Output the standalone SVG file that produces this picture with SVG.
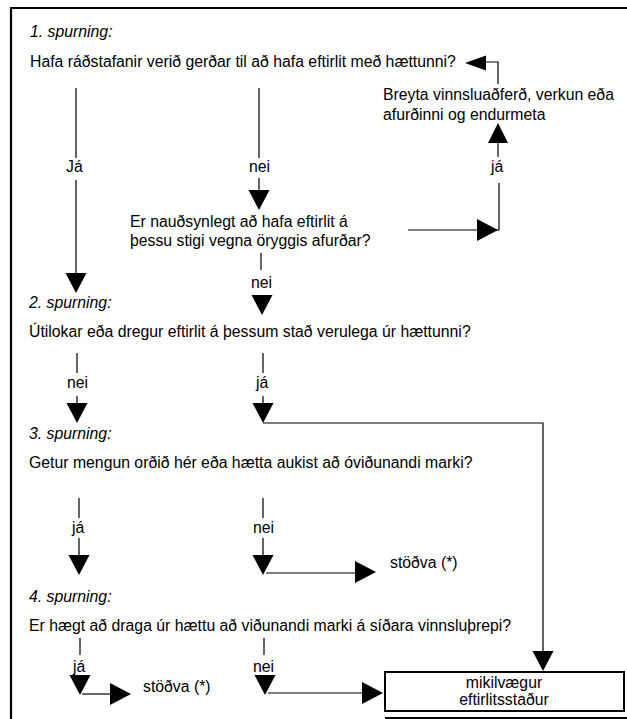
<svg xmlns="http://www.w3.org/2000/svg" width="627" height="719" viewBox="0 0 627 719">
<style>
text{font-family:"Liberation Sans",Arial,sans-serif;font-size:15.8px;fill:#000}
.i{font-style:italic}
.l{stroke:#000;stroke-width:1.2;fill:none}
.a{fill:#000}
</style>
<defs>
<polygon id="ad" points="-10.5,0 10.5,0 0,20"/>
<polygon id="ar" points="0,-11 0,11 21,0"/>
<polygon id="au" points="-10,0 10,0 0,-20"/>
<polygon id="al" points="0,-7.5 0,7.5 -21,0"/>
</defs>
<path d="M11,719 V8 H627" fill="none" stroke="#000" stroke-width="2.2"/>
<path d="M385,718 H627" fill="none" stroke="#000" stroke-width="2"/>
<g id="q1">
<text class="i" x="30" y="37">1. spurning:</text>
<text x="30" y="67">Hafa ráðstafanir verið gerðar til að hafa eftirlit með hættunni?</text>
</g>
<g id="change">
<text x="383" y="100">Breyta vinnsluaðferð, verkun eða</text>
<text x="383" y="120">afurðinni og endurmeta</text>
</g>
<g id="need">
<text x="130" y="227">Er nauðsynlegt að hafa eftirlit á</text>
<text x="130" y="246">þessu stigi vegna öryggis afurðar?</text>
</g>
<g id="q2">
<text class="i" x="29" y="308">2. spurning:</text>
<text x="29" y="337">Útilokar eða dregur eftirlit á þessum stað verulega úr hættunni?</text>
</g>
<g id="q3">
<text class="i" x="29" y="439">3. spurning:</text>
<text x="29" y="468">Getur mengun orðið hér eða hætta aukist að óviðunandi marki?</text>
</g>
<g id="stop1"><text x="390" y="568">stöðva (*)</text></g>
<g id="q4">
<text class="i" x="29" y="602">4. spurning:</text>
<text x="29" y="631">Er hægt að draga úr hættu að viðunandi marki á síðara vinnsluþrepi?</text>
</g>
<g id="stop2"><text x="143" y="692">stöðva (*)</text></g>
<g id="ccp">
<rect x="385" y="672" width="239" height="39" fill="#fff" stroke="#000" stroke-width="2"/>
<text x="504" y="688" text-anchor="middle">mikilvægur</text>
<text x="504" y="705" text-anchor="middle">eftirlitsstaður</text>
</g>
<g id="connectors">
<path class="l" d="M498,84 V62 H484"/>
<use href="#al" x="486" y="63" class="a"/>
<use href="#au" x="498" y="143" class="a"/>
<path class="l" d="M498,143 V157"/>
<text x="491" y="172">já</text>
<path class="l" d="M499,183 V230 H477"/>
<path class="l" d="M408,230 H478"/>
<use href="#ar" x="477" y="230" class="a"/>
<path class="l" d="M76,88 V158 M76,180 V274"/>
<text x="66" y="172">Já</text>
<use href="#ad" x="76" y="273" class="a"/>
<path class="l" d="M259,88 V158 M259,178 V191"/>
<text x="249" y="172">nei</text>
<use href="#ad" x="259" y="190" class="a"/>
<path class="l" d="M261,253 V270"/>
<text x="251" y="288">nei</text>
<use href="#ad" x="262" y="295" class="a"/>
<path class="l" d="M77,353 V373 M77,396 V404"/>
<text x="67" y="388">nei</text>
<use href="#ad" x="77" y="403" class="a"/>
<path class="l" d="M263,353 V373 M263,396 V404"/>
<text x="256" y="388">já</text>
<use href="#ad" x="263" y="403" class="a"/>
<path class="l" d="M263,423 H543 V652"/>
<use href="#ad" x="543" y="651" class="a"/>
<path class="l" d="M79,498 V518 M79,538 V557"/>
<text x="72" y="533">já</text>
<use href="#ad" x="79" y="555" class="a"/>
<path class="l" d="M263,498 V518 M263,538 V557"/>
<text x="253" y="533">nei</text>
<use href="#ad" x="263" y="555" class="a"/>
<path class="l" d="M266,573 H356"/>
<use href="#ar" x="355" y="572" class="a"/>
<path class="l" d="M80,638 V655"/>
<text x="73" y="672">já</text>
<use href="#ad" x="80" y="675" class="a"/>
<path class="l" d="M82,694 H111"/>
<use href="#ar" x="110" y="694" class="a"/>
<path class="l" d="M264,638 V655"/>
<text x="253" y="672">nei</text>
<use href="#ad" x="265" y="675" class="a"/>
<path class="l" d="M268,693 H363"/>
<use href="#ar" x="362" y="693" class="a"/>
</g>
</svg>
